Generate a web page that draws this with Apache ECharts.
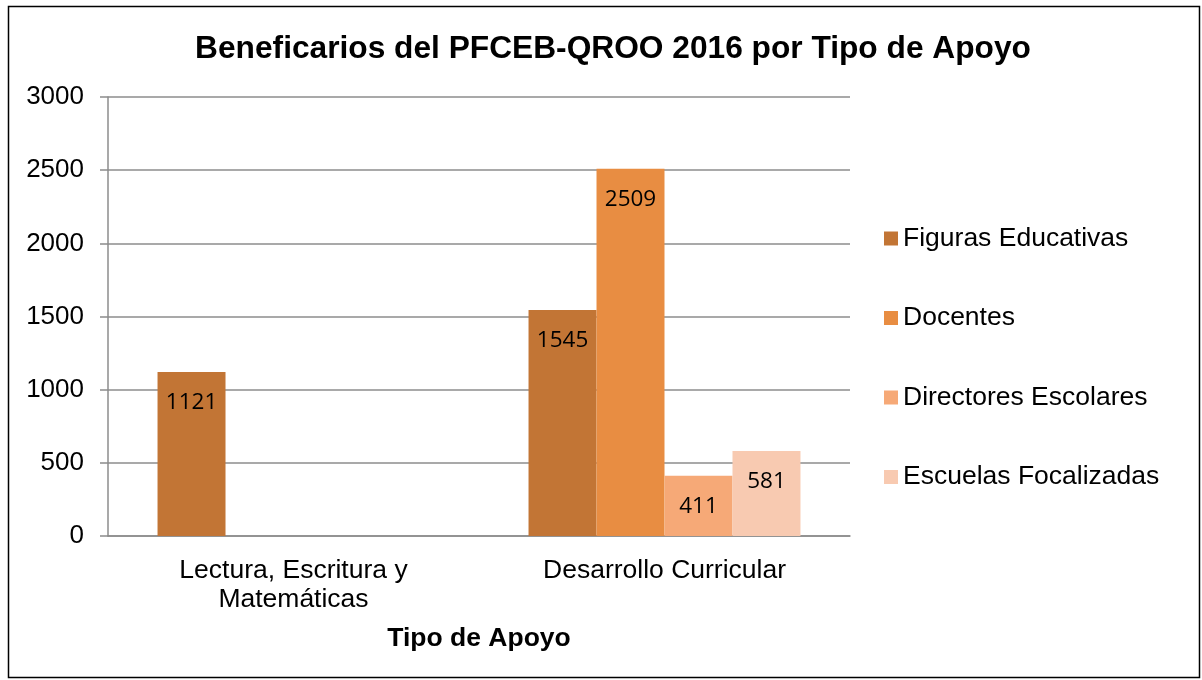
<!DOCTYPE html>
<html>
<head>
<meta charset="utf-8">
<script src="https://cdn.jsdelivr.net/npm/echarts@6/dist/echarts.min.js"></script>
<style>
html, body { margin: 0; padding: 0; background: #fff; }
#main { width: 1202px; height: 680px; }
</style>
</head>
<body>
<div id="main"></div>
<script>
var categories = ['Lectura, Escritura y\nMatemáticas', 'Desarrollo Curricular'];
var figuras = [1121, 1545];
var docentes = [null, 2509];
var directores = [null, 411];
var escuelas = [null, 581];
var yTicks = [0, 500, 1000, 1500, 2000, 2500, 3000];

var myChart = echarts.init(document.getElementById('main'));

// etiqueta de valor dentro de la barra, arriba
var lbl = {
	show: true,
	position: 'insideTop',
	distance: 19,
	color: '#000',
	fontFamily: 'Open Sans',
	fontSize: 22.5
};

function barSerie(name, data, color) {
	return {
		name: name,
		type: 'bar',
		data: data,
		barGap: 0,
		barCategoryGap: '26.7%',
		itemStyle: { color: color },
		label: lbl
	};
}

option = {
	backgroundColor: '#fff',
	animation: false,
	title: {
		text: 'Beneficarios del PFCEB-QROO 2016 por Tipo de Apoyo',
		left: 608,
		textAlign: 'center',
		top: 28,
		textStyle: {
			fontFamily: 'Liberation Sans',
			fontWeight: 'bold',
			fontSize: 31.7,
			color: '#000'
		}
	},
	graphic: [{
		type: 'rect',
		shape: { x: 8.5, y: 6.5, width: 1191, height: 671 },
		style: { fill: 'none', stroke: '#000', lineWidth: 1.5 },
		silent: true
	}],
	legend: {
		orient: 'vertical',
		left: 879,
		top: 220,
		itemGap: 52.5,
		itemWidth: 14,
		itemHeight: 14,
		icon: 'rect',
		textStyle: {
			fontFamily: 'Liberation Sans',
			fontSize: 26.5,
			color: '#000'
		}
	},
	grid: {
		left: 108,
		right: 352,
		top: 97,
		bottom: 144,
		containLabel: false
	},
	xAxis: {
		type: 'category',
		data: categories,
		name: 'Tipo de Apoyo',
		nameLocation: 'middle',
		nameGap: 89,
		nameTextStyle: {
			fontFamily: 'Liberation Sans',
			fontWeight: 'bold',
			fontSize: 26.5,
			color: '#000'
		},
		axisLine: { lineStyle: { color: '#8c8c8c', width: 1.5 } },
		axisTick: { show: false },
		axisLabel: {
			fontFamily: 'Liberation Sans',
			fontSize: 26.5,
			color: '#000',
			margin: 20,
			lineHeight: 29
		}
	},
	yAxis: {
		type: 'value',
		min: yTicks[0],
		max: yTicks[yTicks.length - 1],
		interval: 500,
		axisLine: { show: true, lineStyle: { color: '#8c8c8c', width: 1.5 } },
		axisTick: { show: true, length: 8, lineStyle: { color: '#8c8c8c', width: 1.5 } },
		splitLine: { lineStyle: { color: '#8c8c8c', width: 1.5 } },
		axisLabel: {
			fontFamily: 'Liberation Sans',
			fontSize: 26,
			color: '#000',
			margin: 24,
			formatter: function (v) { return String(v); }
		}
	},
	series: [
		barSerie('Figuras Educativas', figuras, '#C27535'),
		barSerie('Docentes', docentes, '#E88D42'),
		barSerie('Directores Escolares', directores, '#F6A977'),
		barSerie('Escuelas Focalizadas', escuelas, '#F8CAB1')
	]
};

myChart.setOption(option);
</script>
</body>
</html>
